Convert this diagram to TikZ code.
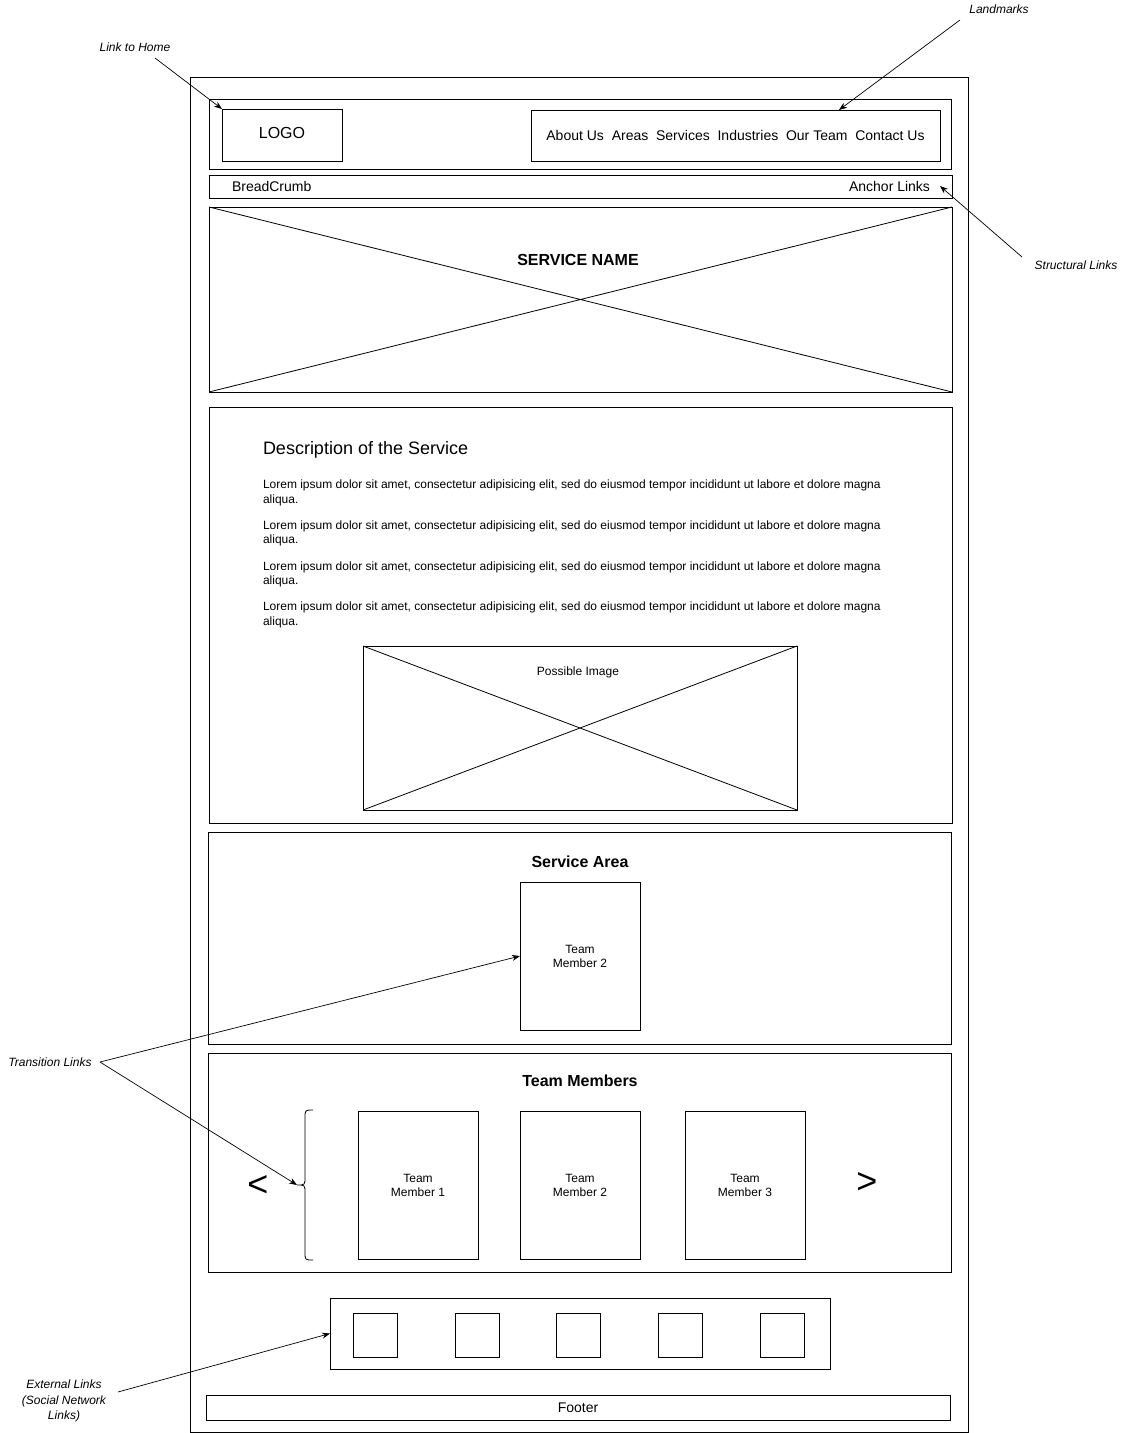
\documentclass[tikz,border=0pt]{standalone}
\usepackage{fontspec}
\setmainfont{Liberation Sans}
\usetikzlibrary{arrows.meta}

\newcommand{\fs}[1]{\fontsize{#1}{#1}\selectfont}

\begin{document}
\begin{tikzpicture}[x=1pt,y=-1pt,
  frame/.style={draw=black,line width=1pt,rectangle,inner sep=0pt,outer sep=0pt,anchor=north west},
  lbl/.style={inner sep=0pt,outer sep=0pt},
  note/.style={font=\fontsize{12}{15.5}\selectfont\itshape,align=center,inner sep=1pt},
  pointer/.style={-{Stealth[length=8pt,width=6pt]},line width=0.7pt},
  para/.style={lbl,font=\fontsize{12}{14.5}\selectfont,align=left,anchor=base west},
  heading/.style={lbl,font=\fs{16}\bfseries},
  member/.style={lbl,font=\fontsize{12}{14}\selectfont,align=center},
]
\useasboundingbox (0,0) rectangle (1132,1433);

% page frame and header
\node[frame,minimum width=778pt,minimum height=1355pt] (page) at (190,77) {};
\node[frame,minimum width=742pt,minimum height=70pt] (header) at (209,99) {};
\node[frame,minimum width=120pt,minimum height=52pt] (logo) at (222,109) {};
\node[lbl,font=\fs{16}] (logotext) at (282,133) {LOGO};
\node[frame,minimum width=409pt,minimum height=51pt] (nav) at (531,110) {};
\node[lbl,font=\fs{14}] (navtext) at (735.5,135) {About Us\hspace{3.9pt} Areas\hspace{3.9pt} Services\hspace{3.9pt} Industries\hspace{3.9pt} Our Team\hspace{3.9pt} Contact Us};

% breadcrumb bar
\node[frame,minimum width=743pt,minimum height=23pt] (crumbs) at (209,175) {};
\node[lbl,font=\fs{14},anchor=west] (crumbtext) at (232,186) {BreadCrumb};
\node[lbl,font=\fs{14},anchor=east] (anchors) at (930,186) {Anchor Links};

% hero banner
\node[frame,minimum width=743pt,minimum height=185pt] (hero) at (209,207) {};
\draw[line width=0.8pt] (hero.north west) -- (hero.south east) (hero.south west) -- (hero.north east);
\node[heading] (servicename) at (578,260) {SERVICE NAME};

% description (base anchor sits on the last line of each paragraph)
\node[frame,minimum width=743pt,minimum height=416pt] (desc) at (209,407) {};
\node[lbl,font=\fs{18},anchor=base west] (desctitle) at (263,454) {Description of the Service};
\node[para] (p1) at (263,503) {Lorem ipsum dolor sit amet, consectetur adipisicing elit, sed do eiusmod tempor incididunt ut labore et dolore magna\\aliqua.};
\node[para] (p2) at (263,543.5) {Lorem ipsum dolor sit amet, consectetur adipisicing elit, sed do eiusmod tempor incididunt ut labore et dolore magna\\aliqua.};
\node[para] (p3) at (263,584.5) {Lorem ipsum dolor sit amet, consectetur adipisicing elit, sed do eiusmod tempor incididunt ut labore et dolore magna\\aliqua.};
\node[para] (p4) at (263,625) {Lorem ipsum dolor sit amet, consectetur adipisicing elit, sed do eiusmod tempor incididunt ut labore et dolore magna\\aliqua.};
\node[frame,minimum width=434pt,minimum height=164pt] (image) at (363,646) {};
\draw[line width=0.8pt] (image.north west) -- (image.south east) (image.south west) -- (image.north east);
\node[lbl,font=\fs{12}] (imagetext) at (578,672) {Possible Image};

% service area
\node[frame,minimum width=743pt,minimum height=212pt] (area) at (208,832) {};
\node[heading] (areatitle) at (580,862) {Service Area};
\node[frame,minimum width=120pt,minimum height=148pt] (areamember) at (520,882) {};
\node[member] at (areamember.center) {Team\\Member 2};

% team members carousel
\node[frame,minimum width=743pt,minimum height=219pt] (team) at (208,1053) {};
\node[heading] (teamtitle) at (580,1081) {Team Members};
\node[frame,minimum width=120pt,minimum height=148pt] (m1) at (358,1111) {};
\node[frame,minimum width=120pt,minimum height=148pt] (m2) at (520,1111) {};
\node[frame,minimum width=120pt,minimum height=148pt] (m3) at (685,1111) {};
\node[member] at (m1.center) {Team\\Member 1};
\node[member] at (m2.center) {Team\\Member 2};
\node[member] at (m3.center) {Team\\Member 3};
\node[lbl,font=\fs{36}] (prev) at (258,1186) {<};
\node[lbl,font=\fs{36}] (next) at (867,1183) {>};
\coordinate (bracetip) at (297,1185);
\draw[line width=0.8pt] (313,1110) .. controls (305,1110) .. (305,1118) -- (305,1177)
  .. controls (305,1185) .. (bracetip) .. controls (305,1185) .. (305,1193)
  -- (305,1252) .. controls (305,1260) .. (313,1260);

% social links
\node[frame,minimum width=500pt,minimum height=71pt] (social) at (330,1298) {};
\foreach \sx [count=\i] in {353,455,556,658,760}
  \node[frame,minimum width=44pt,minimum height=44pt] (icon\i) at (\sx,1313) {};

% footer
\node[frame,minimum width=744pt,minimum height=25pt] (footer) at (206,1395) {};
\node[lbl,font=\fs{14}] (footertext) at (footer.center) {Footer};

% annotations
\node[note] (homenote) at (135,47) {Link to Home};
\node[note] (landnote) at (999,9) {Landmarks};
\node[note] (structnote) at (1076,265) {Structural Links};
\node[note] (transnote) at (50,1062) {Transition Links};
\coordinate (transfrom) at (100,1062);
\node[note] (extnote) at (64,1401) {External Links\\(Social Network\\Links)};

\draw[pointer] (155,58) -- (logo.north west);
\draw[pointer] (960,20) -- (839,110);
\draw[pointer] (1022,257) -- (940,186);
\draw[pointer] (transfrom) -- (areamember.west);
\draw[pointer] (transfrom) -- (bracetip);
\draw[pointer] (118,1392) -- (social.west);
\end{tikzpicture}
\end{document}
